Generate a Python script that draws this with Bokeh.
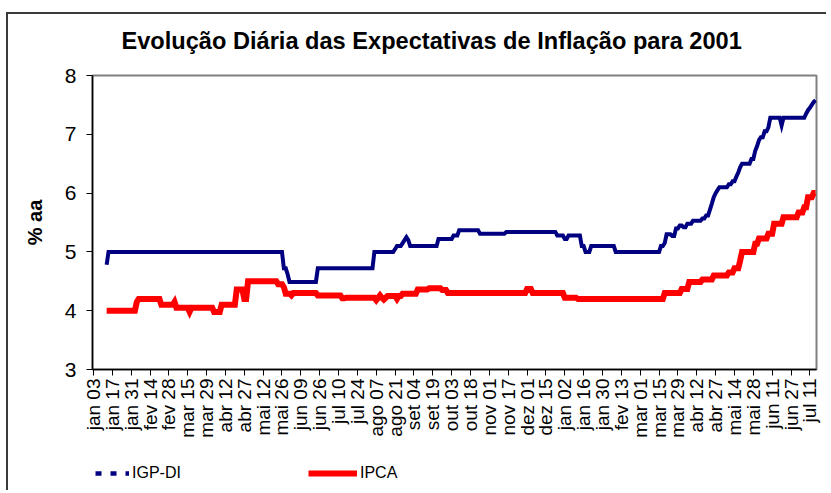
import math
import numpy as np
from bokeh.plotting import figure
from bokeh.layouts import column
from bokeh.models import Range1d, FixedTicker, Legend, LegendItem
from bokeh.embed import file_html
from bokeh.resources import INLINE

FONT = "Liberation Sans"

# ---- data (business-day index, runs of constant value) ----
n_days = 384
tick_labels = ["jan 03", "jan 17", "jan 31", "fev 14", "fev 28", "mar 15", "mar 29",
               "abr 12", "abr 27", "mai 12", "mai 26", "jun 09", "jun 26", "jul 10",
               "jul 24", "ago 07", "ago 21", "set 04", "set 19", "out 03", "out 18",
               "nov 01", "nov 17", "dez 01", "dez 15", "jan 02", "jan 16", "jan 30",
               "fev 13", "mar 01", "mar 15", "mar 29", "abr 12", "abr 27", "mai 14",
               "mai 28", "jun 11", "jun 27", "jul 11"]
tick_step = 10

igp_start = [7, 8, 101, 103, 104, 119, 149, 160, 161, 164, 165, 166, 167, 168, 183, 191,
             194, 205, 219, 246, 250, 252, 255, 259, 261, 264, 277, 301, 303, 304, 307,
             309, 311, 313, 315, 318, 323, 325, 327, 328, 329, 330, 331, 332, 337, 339,
             341, 342, 343, 344, 349, 351, 352, 353, 354, 356, 358, 359, 365, 366, 378,
             379, 380, 381, 382, 383]
igp_value = [4.78, 5.0, 4.72, 4.62, 4.49, 4.72, 5.0, 5.05, 5.1, 5.15, 5.2, 5.25, 5.2, 5.1,
             5.22, 5.28, 5.37, 5.31, 5.34, 5.28, 5.22, 5.28, 5.28, 5.1, 5.0, 5.1, 5.0, 5.1,
             5.15, 5.3, 5.27, 5.4, 5.45, 5.42, 5.48, 5.53, 5.57, 5.62, 5.72, 5.82, 5.93,
             6.0, 6.05, 6.1, 6.15, 6.2, 6.28, 6.35, 6.44, 6.5, 6.58, 6.72, 6.8, 6.9, 6.95,
             7.05, 7.12, 7.28, 7.15, 7.28, 7.35, 7.41, 7.45, 7.5, 7.55, 7.58]

ipca_start = [7, 23, 24, 36, 43, 44, 51, 52, 64, 68, 76, 80, 82, 98, 101, 102, 105, 106,
              119, 132, 134, 150, 151, 152, 153, 154, 155, 156, 161, 162, 164, 172, 178,
              185, 188, 230, 233, 250, 257, 303, 312, 316, 323, 329, 337, 340, 343, 344,
              351, 353, 358, 361, 366, 374, 377, 379, 382]
ipca_value = [4.0, 4.15, 4.2, 4.1, 4.15, 4.05, 3.98, 4.05, 3.98, 4.1, 4.36, 4.2, 4.5, 4.45,
              4.4, 4.29, 4.26, 4.3, 4.26, 4.21, 4.22, 4.18, 4.22, 4.26, 4.22, 4.19, 4.22,
              4.25, 4.2, 4.25, 4.29, 4.36, 4.38, 4.35, 4.3, 4.37, 4.3, 4.22, 4.2, 4.3, 4.37,
              4.49, 4.53, 4.6, 4.65, 4.72, 4.85, 5.0, 5.14, 5.23, 5.31, 5.48, 5.59, 5.67,
              5.76, 5.93, 6.0]


def expand(starts, values):
    xs, ys = [], []
    for k, s in enumerate(starts):
        e = starts[k + 1] if k + 1 < len(starts) else n_days
        for i in range(s, e):
            xs.append(i)
            ys.append(values[k])
    return xs, ys


igp_x, igp_y = expand(igp_start, igp_value)
ipca_x, ipca_y = expand(ipca_start, ipca_value)

NAVY = "#000080"
RED = "#FF0000"
FRAME_GRAY = "#808080"
EDGE = "#3a3a3a"

# ---------------- main chart ----------------
p = figure(width=826, height=450, output_backend="svg", toolbar_location=None,
           x_range=Range1d(-0.5, n_days - 0.5), y_range=Range1d(3, 8),
           min_border_left=92, min_border_right=10, min_border_top=75,
           min_border_bottom=81)
p.border_fill_alpha = 0
p.background_fill_color = "white"
p.outline_line_color = FRAME_GRAY
p.outline_line_width = 2
p.xgrid.visible = False
p.ygrid.visible = False

p.title.text = "Evolução Diária das Expectativas de Inflação para 2001"
p.title.text_font = FONT
p.title.text_font_size = "23.6px"
p.title.text_font_style = "bold"
p.title.text_color = "black"
p.title.align = "left"
p.title.offset = 29
p.title.standoff = 44

p.line(igp_x, igp_y, line_color=NAVY, line_width=4, line_join="miter")
p.line(ipca_x, ipca_y, line_color=RED, line_width=6, line_join="miter")

ticks = [k * tick_step for k in range(len(tick_labels))]
p.xaxis.ticker = FixedTicker(ticks=ticks)
p.xaxis.major_label_overrides = {t: lab for t, lab in zip(ticks, tick_labels)}
p.xaxis.major_label_orientation = math.pi / 2
p.xaxis.major_tick_out = 6
p.xaxis.major_tick_in = 0
p.xaxis.minor_tick_line_color = None
p.xaxis.axis_line_color = "black"
p.xaxis.axis_line_width = 1.5
p.xaxis.major_tick_line_color = "black"
p.xaxis.major_label_text_font = FONT
p.xaxis.major_label_text_font_size = "19px"
p.xaxis.major_label_text_color = "black"
p.xaxis.major_label_standoff = 3

p.yaxis.ticker = FixedTicker(ticks=[3, 4, 5, 6, 7, 8])
p.yaxis.major_tick_out = 6
p.yaxis.major_tick_in = 0
p.yaxis.minor_tick_line_color = None
p.yaxis.axis_line_color = "black"
p.yaxis.axis_line_width = 1.5
p.yaxis.major_tick_line_color = "black"
p.yaxis.major_label_text_font = FONT
p.yaxis.major_label_text_font_size = "21px"
p.yaxis.major_label_text_color = "black"
p.yaxis.major_label_standoff = 10
p.yaxis.axis_label = "% aa"
p.yaxis.axis_label_text_font = FONT
p.yaxis.axis_label_text_font_size = "20px"
p.yaxis.axis_label_text_font_style = "bold"
p.yaxis.axis_label_text_color = "black"
p.yaxis.axis_label_standoff = 16

# ---------------- legend strip (series drawn out of view; only the keys show) --------
lg = figure(width=826, height=40, output_backend="svg", toolbar_location=None,
            x_range=Range1d(-0.5, n_days - 0.5), y_range=Range1d(100, 140),
            x_axis_location=None, y_axis_location=None,
            min_border_left=0, min_border_right=0, min_border_top=0,
            min_border_bottom=0)
lg.grid.visible = False
lg.outline_line_color = None
lg.background_fill_alpha = 0
lg.border_fill_alpha = 0
leg_igp = lg.line(igp_x, igp_y, line_color=NAVY, line_width=4.5, line_dash="6 9")
leg_ipca = lg.line(ipca_x, ipca_y, line_color=RED, line_width=6)

common = dict(orientation="horizontal", glyph_width=49, glyph_height=20, label_height=20,
              label_standoff=3, padding=0, margin=0, spacing=0,
              border_line_alpha=0, background_fill_alpha=0,
              label_text_font=FONT, label_text_font_size="16px", label_text_color="black")
lg.add_layout(Legend(items=[LegendItem(label="IGP-DI", renderers=[leg_igp])],
                     location=(-12, 7), **common))
lg.add_layout(Legend(items=[LegendItem(label="IPCA", renderers=[leg_ipca])],
                     location=(216, 7), **common))

layout = column(p, lg, spacing=0)
# chart-area edge (top and left only, as in the cropped original)
layout.styles = {
    "background": (f"linear-gradient({EDGE},{EDGE}) 6px 12px / 2px 100% no-repeat, "
                   f"linear-gradient({EDGE},{EDGE}) 6px 12px / 100% 2px no-repeat, white"),
}

open("out.html", "w").write(file_html(layout, INLINE, title="Expectativas de Inflação 2001"))
